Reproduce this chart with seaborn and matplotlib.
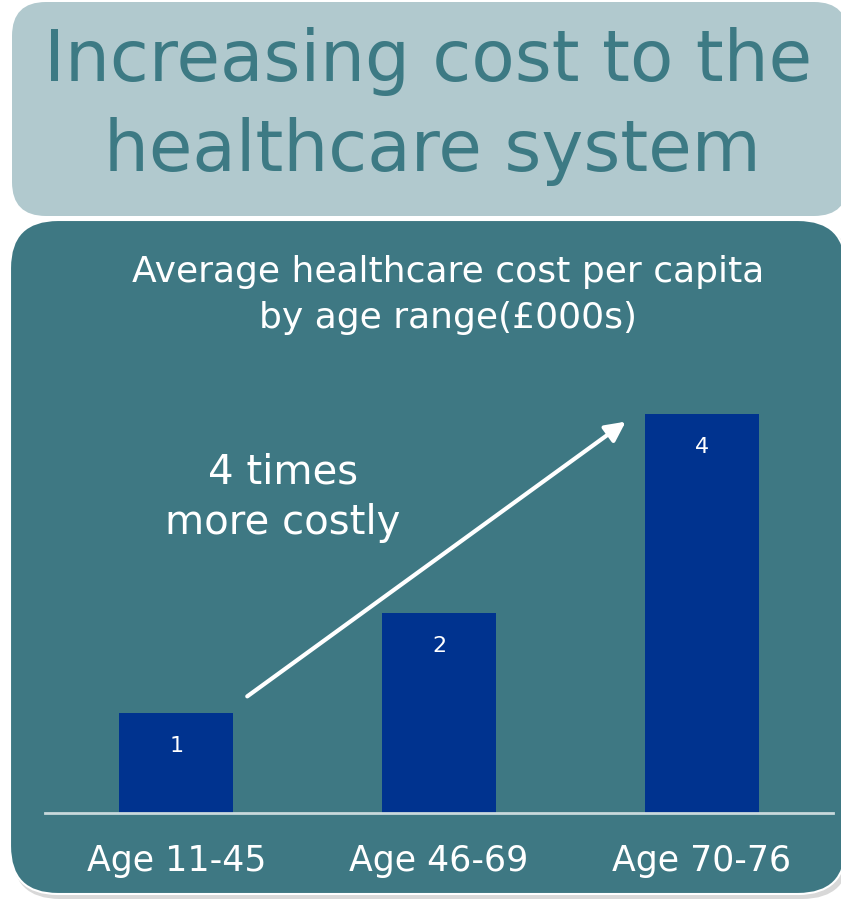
"""Average healthcare cost per capita by age range, slide-style bar chart."""
import matplotlib

matplotlib.use("Agg")
import matplotlib.pyplot as plt
from matplotlib.patches import FancyBboxPatch
import seaborn as sns

age_ranges = ["Age 11-45", "Age 46-69", "Age 70-76"]
cost_000s = [1, 2, 4]

TOP_BOX = "#b1c9ce"
PANEL = "#3e7883"
TITLE_COL = "#3d7a84"
BAR_COL = "#00338f"
BASE_COL = "#c9d9dc"
FONT = ["DejaVu Sans"]

sns.set_theme(style="white")
plt.rcParams["font.family"] = FONT

W, H = 841, 901
fig = plt.figure(figsize=(W / 100, H / 100), dpi=100, facecolor="white")


def px_box(x0, y0, x1, y1, r, **kw):
    """Rounded box given in pixel coords (y from top)."""
    return FancyBboxPatch((x0 / W, 1 - y1 / H), (x1 - x0) / W, (y1 - y0) / H,
                          boxstyle=f"round,pad=0,rounding_size={r / W}",
                          transform=fig.transFigure, mutation_aspect=W / H,
                          zorder=-5, **kw)


# title box + chart panel (with a soft shadow)
fig.patches.append(px_box(12, 2, 848, 216, 34, fc=TOP_BOX, ec="none"))
fig.patches.append(px_box(12, 224, 850, 899, 48, fc="#d8d8d8", ec="none"))
fig.patches.append(px_box(10, 220, 846, 894, 48, fc=PANEL, ec="white", lw=1.5))

fig.text(428 / W, 1 - 62 / H, "Increasing cost to the", color=TITLE_COL,
         fontsize=51, ha="center", va="center")
fig.text(432 / W, 1 - 152 / H, "healthcare system", color=TITLE_COL,
         fontsize=51, ha="center", va="center")
fig.text(448 / W, 1 - 272 / H, "Average healthcare cost per capita", color="white",
         fontsize=26, ha="center", va="center")
fig.text(448 / W, 1 - 318 / H, "by age range(£000s)", color="white",
         fontsize=26, ha="center", va="center")

ax = fig.add_axes([45 / W, (H - 813) / H, 788 / W, 449 / H])
ax.set_facecolor("none")
sns.barplot(x=age_ranges, y=cost_000s, color=BAR_COL, saturation=1,
            width=0.434, edgecolor="none", linewidth=0, ax=ax)
ax.set_xlim(-0.5, 2.5)
ax.set_ylim(0, 4.5)
ax.set_yticks([])
for s in ["top", "right", "left"]:
    ax.spines[s].set_visible(False)
ax.spines["bottom"].set_color(BASE_COL)
ax.spines["bottom"].set_linewidth(2)
ax.tick_params(axis="x", length=0, colors="white", labelsize=25, pad=22)
ax.set_xlabel("")
ax.set_ylabel("")

for p, v in zip(ax.patches, cost_000s):
    ax.text(p.get_x() + p.get_width() / 2, v - 0.33, f"{v}", color="white",
            fontsize=16, ha="center", va="center")

ax.annotate("", xy=(628 / W, 1 - 420 / H), xytext=(245 / W, 1 - 698 / H),
            xycoords="figure fraction", textcoords="figure fraction",
            arrowprops=dict(arrowstyle="-|>,head_length=1.0,head_width=0.5",
                            color="white", lw=3))
fig.text(283 / W, 1 - 473 / H, "4 times", color="white", fontsize=29,
         ha="center", va="center")
fig.text(283 / W, 1 - 523 / H, "more costly", color="white", fontsize=29,
         ha="center", va="center")

fig.savefig("out.png", dpi=100, facecolor="white")
